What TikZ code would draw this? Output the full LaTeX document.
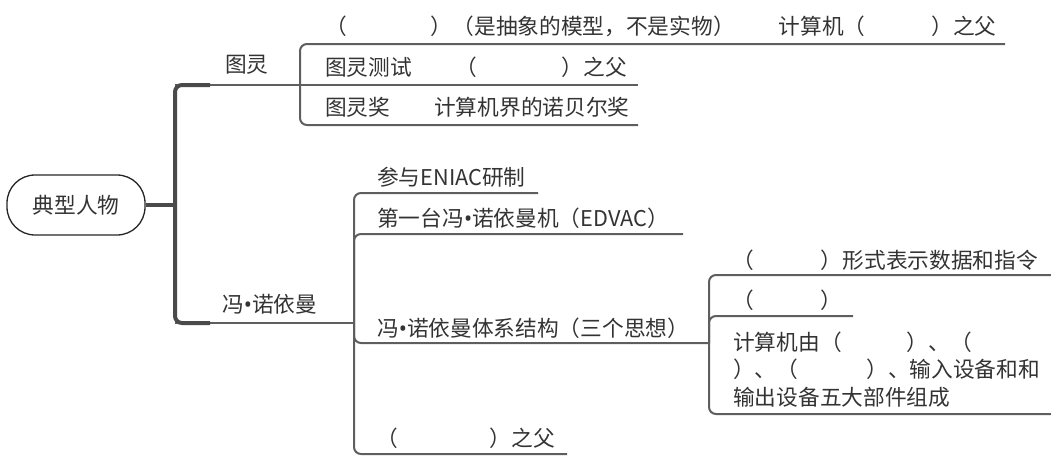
\documentclass[tikz,border=0pt]{standalone}
\usepackage{fontspec}
\setmainfont{Noto Sans CJK SC}
\newfontfamily\latinf{Noto Sans}
\newcommand{\dotsep}{{\latinf •}}
\definecolor{textc}{HTML}{333333}
\definecolor{linec}{HTML}{4A4A4A}
\definecolor{linec2}{HTML}{5E5E5E}
\begin{document}
\begin{tikzpicture}[x=1pt,y=-1pt,
  txt/.style={anchor=base west, inner sep=0pt, text=textc, font=\fontsize{21.7}{27.5}\selectfont},
  thickln/.style={draw=linec, line width=4pt, rounded corners=7pt},
  thinln/.style={draw=linec2, line width=2pt, rounded corners=7pt},
  rootbox/.style={draw=black!85, line width=1.3pt, rounded corners=28pt, minimum width=138pt, minimum height=60pt, inner sep=0pt, text=textc, font=\fontsize{21.7}{27.5}\selectfont}]
\useasboundingbox (0,0) rectangle (1051,456);

% root
\node[rootbox] (root) at (76,205) {典型人物};
\coordinate (hub) at (175,205);
\coordinate (tA) at (175,85);
\coordinate (tS) at (210,85);
\coordinate (vA) at (175,323);
\coordinate (vS) at (210,323);

% branch junctions
\coordinate (t1) at (300,85);
\coordinate (v1) at (354,323);
\coordinate (v2) at (709,343);

% ends of underlines
\coordinate (ea) at (1005,44);
\coordinate (eb) at (638,85);
\coordinate (ec) at (638,125);
\coordinate (fa) at (538,193);
\coordinate (fb) at (683,234);
\coordinate (fd) at (567,454);
\coordinate (ga) at (1051,275);
\coordinate (gb) at (853,316);
\coordinate (gc) at (1051,414);

% thin connectors
\draw[thinln] (tA) -- (t1);
\draw[thinln] (t1) |- (ea);
\draw[thinln] (t1) -- (eb);
\draw[thinln] (t1) |- (ec);
\draw[thinln] (vA) -- (v1);
\draw[thinln] (v1) |- (fa);
\draw[thinln] (v1) |- (fb);
\draw[thinln] (v1) |- (v2);
\draw[thinln] (v1) |- (fd);
\draw[thinln] (v2) |- (ga);
\draw[thinln] (v2) |- (gb);
\draw[thinln] (v2) |- (gc);

% thick connectors
\draw[thickln] (root.east) -- (hub);
\draw[thickln] (tS) -- (tA) -- (vA) -- (vS);

% labels
\node[txt] (tl) at (225,72) {图灵};
\node[txt] (fn) at (222,312) {冯\dotsep 诺依曼};
\node[txt] (ta) at (325,34) {（\hspace{84pt}）（是抽象的模型，不是实物）\hspace{44pt}计算机（\hspace{66pt}）之父};
\node[txt] (tb) at (325,75) {图灵测试\hspace{44pt}（\hspace{84pt}）之父};
\node[txt] (tc) at (325,115) {图灵奖\hspace{44pt}计算机界的诺贝尔奖};
\node[txt] (va) at (377,185) {参与ENIAC研制};
\node[txt] (vb) at (377,226) {第一台冯\dotsep 诺依曼机（EDVAC）};
\node[txt] (vc) at (377,336) {冯\dotsep 诺依曼体系结构（三个思想）};
\node[txt] (vd) at (376,446) {（\hspace{92pt}）之父};
\node[txt] (wa) at (732,268) {（\hspace{67pt}）形式表示数据和指令};
\node[txt] (wb) at (732,308) {（\hspace{67pt}）};
\node[txt, align=left] (wc) at (733,405) {计算机由（\hspace{65pt}）、（\\）、（\hspace{68pt}）、输入设备和和\\输出设备五大部件组成};
\end{tikzpicture}
\end{document}
